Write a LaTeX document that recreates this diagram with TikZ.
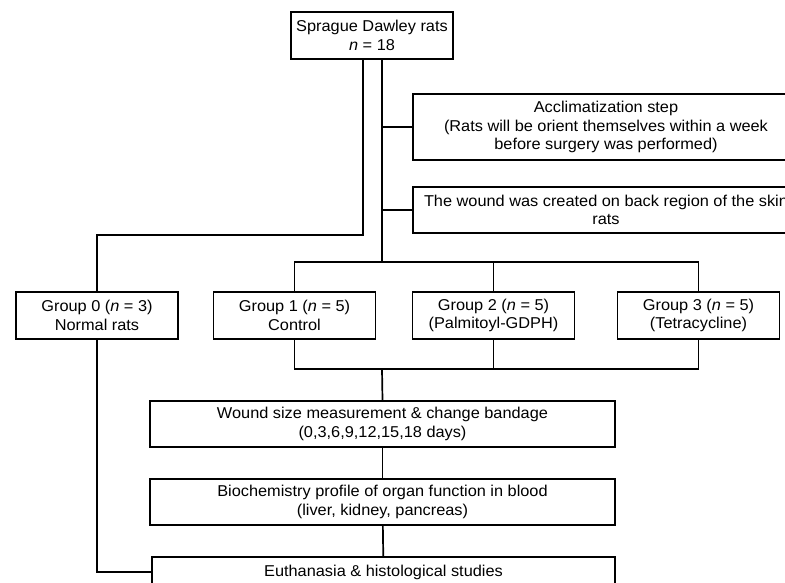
\documentclass[tikz,border=0pt]{standalone}
\usepackage{fontspec}
\setmainfont{Liberation Sans}[FakeStretch=1.04]
\begin{document}
\begin{tikzpicture}[x=1pt, y=-1pt, line width=1.7pt,
    box/.style={draw, line width=1.7pt, align=center, inner sep=0pt,
      font=\fontsize{15.7}{18.7}\selectfont}]
    \useasboundingbox (0,0) rectangle (785,582);

    \node[box, minimum width=162, minimum height=47] (rats) at (372,35.5)
      {Sprague Dawley rats\\\textit{n} = 18};
    \node[box, minimum width=386, minimum height=66] (accl) at (606,127)
      {Acclimatization step\\(Rats will be orient themselves within a week\\before surgery was performed)};
    \node[box, minimum width=386, minimum height=46] (skin) at (606,210)
      {The wound was created on back region of the skin\\rats};

    \node[box, minimum width=162, minimum height=47] (g0) at (97,315.5)
      {Group 0 (\textit{n} = 3)\\Normal rats};
    \node[box, minimum width=162, minimum height=47] (g1) at (294.5,315.5)
      {Group 1 (\textit{n} = 5)\\Control};
    \node[box, minimum width=162, minimum height=47] (g2) at (493.5,315.5)
      {Group 2 (\textit{n} = 5)\\(Palmitoyl-GDPH)};
    \node[box, minimum width=162, minimum height=47] (g3) at (698.5,315.5)
      {Group 3 (\textit{n} = 5)\\(Tetracycline)};

    \node[box, minimum width=465, minimum height=46] (wsize) at (382.5,424)
      {Wound size measurement \& change bandage\\(0,3,6,9,12,15,18 days)};
    \node[box, minimum width=465, minimum height=46] (bio) at (382.5,502)
      {Biochemistry profile of organ function in blood\\(liver, kidney, pancreas)};
    \node[box, minimum width=463, minimum height=30] (euth) at (383.5,572)
      {Euthanasia \& histological studies};

    \coordinate (lsplit) at (363,235);
    \coordinate (dist) at (382,262);
    \coordinate (coll) at (382,369);

    \draw (rats.south -| lsplit) -- (lsplit) -| (g0.north);
    \draw (g0.south) |- (euth.west);
    \draw (rats.south -| dist) -- (dist);
    \draw (accl.west) -- (accl.west -| dist);
    \draw (skin.west) -- (skin.west -| dist);

    \draw (g1.north) |- (g3.north |- dist) -- (g3.north);
    \draw (g2.north) -- (g2.north |- dist);
    \draw (g1.south) |- (g3.south |- coll) -- (g3.south);
    \draw (g2.south) -- (g2.south |- coll);
    \draw (coll) -- (wsize.north);
    \draw (wsize) -- (bio);
    \draw (bio) -- (euth);
  \end{tikzpicture}
\end{document}
